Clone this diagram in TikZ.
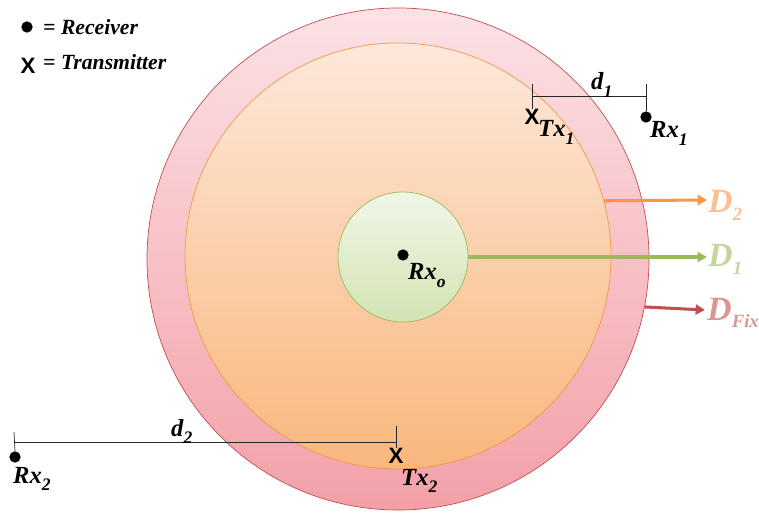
\documentclass[tikz,border=0pt]{standalone}
\usepackage{fontspec}
\setmainfont{Liberation Serif}
\newfontfamily\marksans{Liberation Sans}
\usepackage{xcolor}
\usepackage{tikz}
\usetikzlibrary{arrows.meta}

\definecolor{ringred}{HTML}{C0504D}
\definecolor{ringpinkA}{HTML}{FBE2E5}
\definecolor{ringpinkB}{HTML}{F3A0A8}
\definecolor{zoneorange}{HTML}{F79646}
\definecolor{zonepeachA}{HTML}{FDE8DA}
\definecolor{zonepeachB}{HTML}{F9B77C}
\definecolor{coregreen}{HTML}{9BBB59}
\definecolor{coregreenA}{HTML}{F1F6E8}
\definecolor{coregreenB}{HTML}{D3E3B3}
\definecolor{labDtwo}{HTML}{FAC090}
\definecolor{labDone}{HTML}{C3D69B}
\definecolor{labDfix}{HTML}{D99694}
\newcommand{\lsub}[2]{\raisebox{-6pt}{\fontsize{#1}{#1}\selectfont #2}}

\begin{document}
\begin{tikzpicture}[x=0.03cm, y=0.03cm, font=\bfseries\itshape\fontsize{21}{24}\selectfont,
  zonedisc/.style={circle, inner sep=0pt, line width=0.6pt},
  rxdot/.style={circle, fill=black, inner sep=0pt, minimum size=0.34cm},
  txmark/.style={inner sep=0pt, font=\marksans\bfseries\fontsize{19}{22}\selectfont},
  lbl/.style={inner sep=0pt, anchor=base west},
  dimline/.style={line width=0.6pt, black!85},
  reach/.style={line width=2.6pt, -{Triangle[length=8pt, width=8.5pt]}},
  bigD/.style={lbl, font=\bfseries\itshape\fontsize{29}{32}\selectfont}]
  \useasboundingbox (0,0) rectangle (759,-516);
  % the three zones
  \node[zonedisc, draw=ringred, top color=ringpinkA, bottom color=ringpinkB, minimum size=15.06cm] (fix) at (398,-259) {};
  \node[zonedisc, draw=zoneorange, top color=zonepeachA, bottom color=zonepeachB, minimum size=12.78cm] (zone) at (398,-256) {};
  \node[zonedisc, draw=coregreen, top color=coregreenA, bottom color=coregreenB, minimum size=3.9cm] (core) at (403,-257) {};
  % legend
  \node[rxdot] (legrx) at (27,-27) {};
  \node[lbl, font=\bfseries\itshape\fontsize{18.5}{21}\selectfont] (legrxtext) at (43,-35) {= Receiver};
  \node[txmark] (legtx) at (28,-66) {X};
  \node[lbl, font=\bfseries\itshape\fontsize{18.5}{21}\selectfont] (legtxtext) at (43,-70) {= Transmitter};
  % receivers and transmitters
  \node[rxdot] (rxo) at (403,-255) {};
  \node[lbl] (rxolbl) at (408,-280) {Rx\lsub{15}{o}};
  \node[txmark] (txone) at (532,-117) {X};
  \node[lbl] (txonelbl) at (538,-137) {Tx\lsub{15}{1}};
  \node[rxdot] (rxone) at (646,-117) {};
  \node[lbl] (rxonelbl) at (650,-138) {Rx\lsub{15}{1}};
  \node[rxdot] (rxtwo) at (15,-457) {};
  \node[lbl] (rxtwolbl) at (13,-483) {Rx\lsub{15}{2}};
  \node[txmark] (txtwo) at (396,-456) {X};
  \node[lbl] (txtwolbl) at (401,-485) {Tx\lsub{15}{2}};
  % distances
  \coordinate (dimoneL) at (532,-84); \coordinate (dimoneR) at (646,-84);
  \coordinate (dimoneA) at (532,-96); \coordinate (dimoneB) at (646,-96);
  \draw[dimline] (dimoneL) -- (txone.north);
  \draw[dimline] (dimoneR) -- (rxone.north);
  \draw[dimline] (dimoneA) -- (dimoneB);
  \node[lbl] (donelbl) at (591,-90) {d\lsub{15}{1}};
  \coordinate (dimtwoL) at (14,-432); \coordinate (dimtwoR) at (396,-426);
  \coordinate (dimtwoA) at (14,-442); \coordinate (dimtwoB) at (396,-442);
  \draw[dimline] (dimtwoL) -- (rxtwo.north);
  \draw[dimline] (dimtwoR) -- (txtwo.north);
  \draw[dimline] (dimtwoA) -- (dimtwoB);
  \node[lbl] (dtwolbl) at (171,-436) {d\lsub{15}{2}};
  % zone radii
  \coordinate (tipDtwo) at (707,-200);
  \coordinate (tipDone) at (707,-257);
  \coordinate (tipDfix) at (705,-310);
  \draw[reach, zoneorange] (zone.15.24) -- (tipDtwo);
  \draw[reach, coregreen] (core.east) -- (tipDone);
  \draw[reach, ringred] (fix.-11.72) -- (tipDfix);
  \node[bigD, labDtwo] (dtwo) at (708,-213) {D\lsub{16}{2}};
  \node[bigD, labDone] (done) at (708,-267) {D\lsub{16}{1}};
  \node[bigD, labDfix] (dfix) at (707,-320) {D\lsub{16}{Fix}};
\end{tikzpicture}
\end{document}
